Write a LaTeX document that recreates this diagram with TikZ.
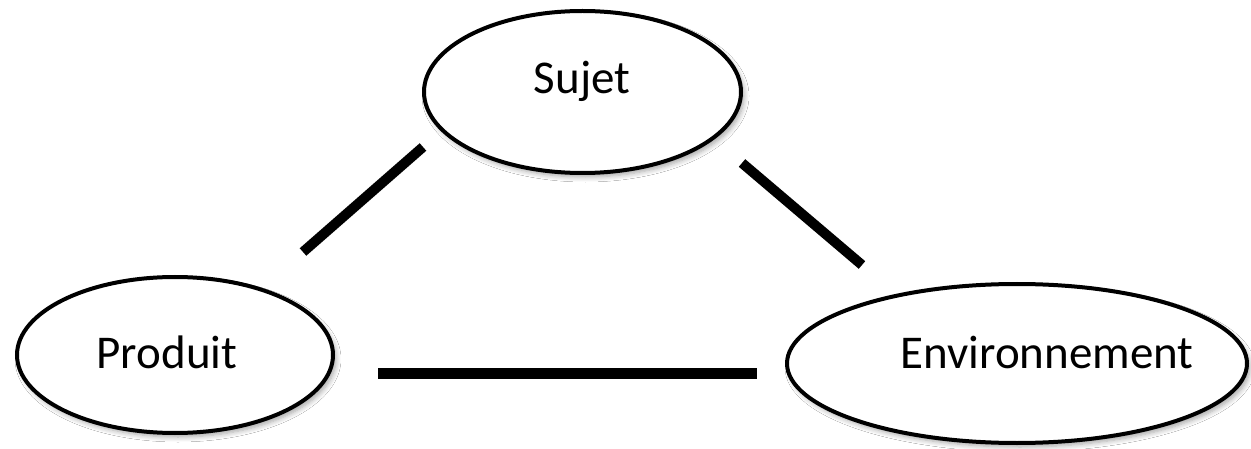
\documentclass[tikz,border=0pt]{standalone}
\usepackage{fontspec}
\setmainfont{Carlito}
\usetikzlibrary{shapes.geometric,shadows.blur}
\tikzset{
  oval/.style={ellipse, draw=black, line width=4pt, fill=white, inner sep=0pt,
    blur shadow={shadow xshift=3pt, shadow yshift=-4pt, shadow blur steps=6,
      shadow blur radius=5pt, shadow opacity=35}},
  lbl/.style={anchor=base, inner sep=0pt, font=\fontsize{47}{56}\selectfont},
  bar/.style={line width=10pt, line cap=butt},
  hbar/.style={line width=11pt, line cap=butt}
}
\begin{document}
\begin{tikzpicture}[x=1pt,y=-1pt]
\useasboundingbox[fill=white] (0,0) rectangle (1251,449);
% ellipses
\node[oval, minimum width=317pt, minimum height=162pt] (sujet) at (582.5,92) {};
\node[oval, minimum width=316pt, minimum height=156pt] (produit) at (175,355) {};
\node[oval, minimum width=460pt, minimum height=159pt] (env) at (1017,363.5) {};
% labels
\node[lbl] (tsujet) at (582,94) {Sujet};
\node[lbl] (tproduit) at (167,368) {Produit};
\node[lbl] (tenv) at (1047,368) {Environnement};
% connector end points
\coordinate (a1) at (303,252);
\coordinate (a2) at (423,147);
\coordinate (b1) at (742,163);
\coordinate (b2) at (862,265);
\coordinate (c1) at (378,373);
\coordinate (c2) at (757,373);
\draw[bar] (a1) -- (a2);
\draw[bar] (b1) -- (b2);
\draw[hbar] (c1) -- (c2);
\end{tikzpicture}
\end{document}
